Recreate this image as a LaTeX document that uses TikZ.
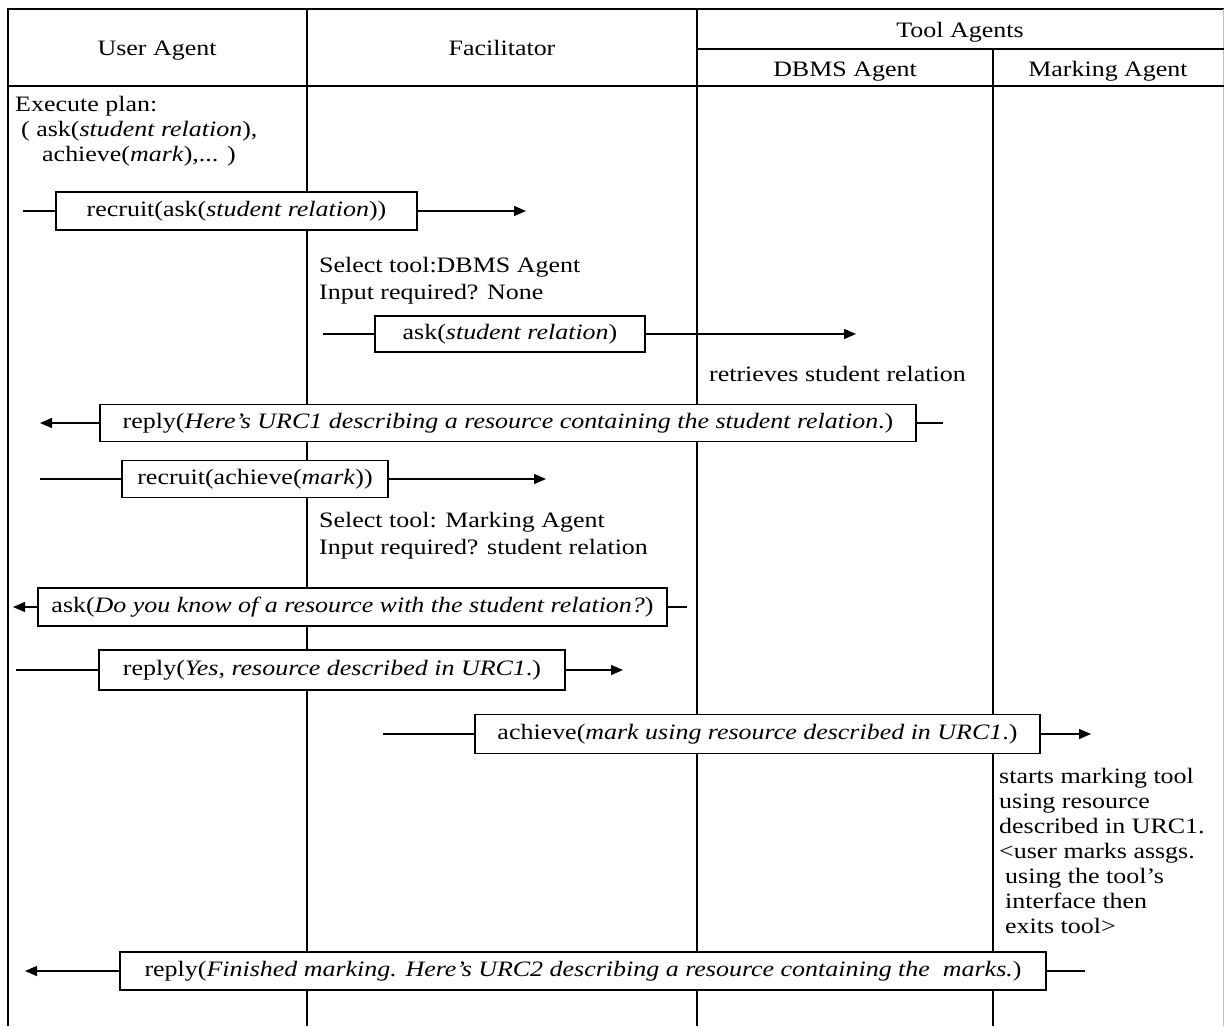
\documentclass[tikz,border=0pt]{standalone}
\usepackage{fontspec}
\setmainfont{Liberation Serif}[FakeStretch=1.18]
\usetikzlibrary{arrows.meta}
\begin{document}
\begin{tikzpicture}[x=1pt,y=-1pt,
  frame/.style={line width=1.4pt},
  msgbox/.style={draw,fill=white,line width=1.4pt,inner sep=0pt,minimum height=38pt,font=\fontsize{22}{27.5}\selectfont},
  msgline/.style={line width=1.3pt},
  msgarrow/.style={line width=1.3pt,-{Triangle[length=12pt,width=10pt]}},
  hdr/.style={font=\fontsize{22}{26}\selectfont,inner sep=0pt,anchor=base},
  note/.style={font=\fontsize{22}{27.5}\selectfont,inner sep=0pt,align=left,anchor=north west},
  tightnote/.style={note,font=\fontsize{22}{25}\selectfont}]
\useasboundingbox (0,0) rectangle (1224,1026);
% frame
\draw[frame] (8,1026) -- (8,9) -- (1224,9);
\draw[line width=0.6pt,black!25] (1223,9) -- (1223,1026);
\draw[frame] (8,86) -- (1224,86);
\draw[frame] (697,49) -- (1224,49);
\draw[line width=1.2pt] (307,9) -- (307,1026);
\draw[line width=1.2pt] (697,9) -- (697,1026);
\draw[line width=1.2pt] (993,49) -- (993,1026);
% headers
\node[hdr] (hua) at (157,55) {User Agent};
\node[hdr] (hfa) at (502,55) {Facilitator};
\node[hdr] (hta) at (960,37) {Tool Agents};
\node[hdr] (hdb) at (845,76) {DBMS Agent};
\node[hdr] (hma) at (1108,76) {Marking Agent};
% execute plan
\node[tightnote] (plan) at (15,96) {Execute plan:\\\hspace*{6pt}( ask(\textit{student relation}),\\\hspace*{27pt}achieve(\textit{mark}),... )};
% message 1
\node[msgbox,minimum width=361pt] (m1) at (236.5,211) {recruit(ask(\textit{student relation}))};
\coordinate (m1s) at (23,211);
\coordinate (m1e) at (526,211);
\draw[msgline] (m1s) -- (m1.west);
\draw[msgarrow] (m1.east) -- (m1e);
% facilitator note 1
\node[note] (f1) at (319,257) {Select tool:DBMS Agent\\Input required? None};
% message 2
\node[msgbox,minimum width=270pt,minimum height=36pt] (m2) at (510,334) {ask(\textit{student relation})};
\coordinate (m2s) at (323,334);
\coordinate (m2e) at (856,334);
\draw[msgline] (m2s) -- (m2.west);
\draw[msgarrow] (m2.east) -- (m2e);
% dbms note
\node[note] (d1) at (709,366) {retrieves student relation};
% message 3
\node[msgbox,minimum width=816pt,minimum height=37pt] (m3) at (508,423) {reply(\textit{Here’s URC1 describing a resource containing the student relation}.)};
\coordinate (m3s) at (943,423);
\coordinate (m3e) at (40,423);
\draw[msgline] (m3s) -- (m3.east);
\draw[msgarrow] (m3.west) -- (m3e);
% message 4
\node[msgbox,minimum width=266pt,minimum height=37pt] (m4) at (255,479) {recruit(achieve(\textit{mark}))};
\coordinate (m4s) at (40,479);
\coordinate (m4e) at (546,479);
\draw[msgline] (m4s) -- (m4.west);
\draw[msgarrow] (m4.east) -- (m4e);
% facilitator note 2
\node[note] (f2) at (319,512) {Select tool: Marking Agent\\Input required? student relation};
% message 5
\node[msgbox,minimum width=629pt] (m5) at (352.5,607) {ask(\textit{Do you know of a resource with the student relation?})};
\coordinate (m5s) at (687,607);
\coordinate (m5e) at (13,607);
\draw[msgline] (m5s) -- (m5.east);
\draw[msgarrow] (m5.west) -- (m5e);
% message 6
\node[msgbox,minimum width=466pt,minimum height=40pt] (m6) at (332,670) {reply(\textit{Yes, resource described in URC1}.)};
\coordinate (m6s) at (16,670);
\coordinate (m6e) at (623,670);
\draw[msgline] (m6s) -- (m6.west);
\draw[msgarrow] (m6.east) -- (m6e);
% message 7
\node[msgbox,minimum width=565pt,minimum height=39pt] (m7) at (757.5,734) {achieve(\textit{mark using resource described in URC1}.)};
\coordinate (m7s) at (383,734);
\coordinate (m7e) at (1091,734);
\draw[msgline] (m7s) -- (m7.west);
\draw[msgarrow] (m7.east) -- (m7e);
% marking note
\node[tightnote] (k1) at (999,768) {starts marking tool\\using resource\\described in URC1.\\<user marks assgs.\\\hspace*{6pt}using the tool’s\\\hspace*{6pt}interface then\\\hspace*{6pt}exits tool>};
% message 8
\node[msgbox,minimum width=926pt] (m8) at (583,971) {reply(\textit{Finished marking. Here’s URC2 describing a resource containing the \ marks.})};
\coordinate (m8s) at (1085,971);
\coordinate (m8e) at (25,971);
\draw[msgline] (m8s) -- (m8.east);
\draw[msgarrow] (m8.west) -- (m8e);
\end{tikzpicture}
\end{document}
